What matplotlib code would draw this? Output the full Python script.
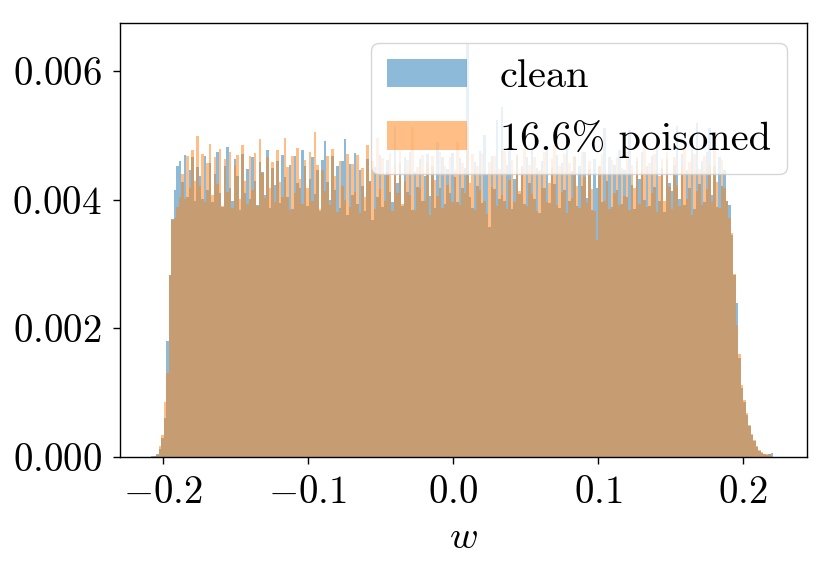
"""Weight histogram: clean vs poisoned"""

import matplotlib
matplotlib.use("Agg")
import matplotlib.pyplot as plt
from matplotlib.ticker import MultipleLocator, FuncFormatter
import numpy as np

plt.rcParams["font.family"] = ["serif"]
plt.rcParams["font.serif"] = ["cmr10", "DejaVu Serif"]
plt.rcParams["mathtext.fontset"] = "cm"
plt.rcParams["axes.unicode_minus"] = False

# bin range shared by both histograms
BIN_LO = -0.208
BIN_HI = 0.2226

# bar heights (fraction of weights per bin), in units of 1e-5
clean_heights = [
    1, 2, 4, 12, 30, 60, 180, 283, 370,
    416, 452, 461, 428, 470, 405, 447, 466, 398, 451,
    437, 402, 469, 415, 458, 396, 441, 475, 410, 389,
    452, 482, 419, 398, 463, 437, 384, 472, 411, 448,
    401, 466, 430, 392, 459, 444, 407, 478, 388, 450,
    423, 461, 395, 470, 436, 404, 455, 386, 468, 427,
    418, 478, 452, 391, 433, 467, 409, 446, 383, 462,
    492, 428, 400, 469, 415, 452, 387, 461, 495, 377,
    456, 408, 473, 393, 447, 421, 382, 464, 430, 369,
    451, 404, 470, 389, 438, 462, 413, 396, 514, 427,
    458, 391, 466, 412, 475, 385, 443, 420, 463, 399,
    437, 471, 406, 452, 388, 490, 419, 466, 394, 448,
    410, 473, 435, 397, 465, 418, 450, 643, 405, 388,
    459, 422, 476, 395, 501, 441, 358, 468, 417, 525,
    402, 545, 398, 455, 480, 386, 432, 469, 409, 452,
    393, 466, 427, 481, 402, 449, 380, 461, 418, 477,
    395, 451, 424, 470, 387, 458, 415, 483, 399, 445,
    466, 390, 453, 421, 474, 403, 448, 384, 463, 419,
    452, 397, 512, 430, 467, 389, 455, 416, 478, 394,
    446, 405, 509, 423, 386, 461, 432, 475, 400, 452,
    391, 468, 420, 484, 398, 450, 381, 463, 427, 414,
    455, 515, 401, 471, 392, 446, 418, 479, 386, 520,
    425, 460, 397, 474, 512, 408, 452, 389, 467, 421,
    447, 398, 392,
    345, 283, 240, 154, 107, 85, 65, 48, 35, 25, 16, 10, 7, 5, 3, 4, 7, 0,
]

poisoned_heights = [
    0, 1, 3, 17, 34, 85, 130, 283, 369,
    372, 389, 405, 441, 402, 468, 419, 477, 430, 500,
    421, 472, 396, 458, 487, 407, 466, 425, 479, 391,
    463, 412, 474, 388, 455, 470, 401, 486, 429, 394,
    468, 415, 473, 390, 495, 442, 403, 466, 418, 459,
    397, 478, 428, 405, 497, 451, 384, 469, 410, 481,
    432, 393, 462, 418, 474, 399, 506, 455, 386, 447,
    414, 468, 392, 479, 437, 381, 460, 421, 400, 472,
    389, 456, 413, 470, 380, 449, 404, 486, 428, 461,
    386, 496, 417, 465, 398, 443, 473, 382, 455, 411,
    476, 393, 430, 462, 408, 514, 385, 451, 419, 470,
    399, 457, 376, 468, 431, 406, 475, 388, 452, 423,
    466, 396, 447, 490, 392, 458, 410, 514, 427, 471,
    384, 452, 415, 473, 399, 378, 459, 420, 468, 391,
    448, 407, 476, 386, 431, 462, 397, 471, 414, 440,
    479, 390, 455, 409, 467, 383, 446, 418, 474, 396,
    427, 465, 486, 392, 453, 412, 472, 380, 458, 403,
    469, 421, 388, 474, 435, 395, 460, 417, 383, 338,
    452, 471, 399, 438, 386, 462, 411, 466, 392, 449,
    406, 475, 384, 455, 418, 467, 393, 446, 480, 389,
    458, 410, 472, 381, 437, 464, 398, 475, 420, 386,
    466, 423, 391, 452, 480, 402, 459, 377, 471, 414,
    448, 392, 469, 417, 455, 396, 478, 428, 387, 462,
    419, 398, 372,
    348, 285, 205, 160, 112, 88, 68, 50, 36, 26, 17, 11, 8, 5, 4, 4, 0, 0,
]

labels = ["clean", "16.6% poisoned"]

edges = np.linspace(BIN_LO, BIN_HI, len(clean_heights) + 1)
centers = 0.5 * (edges[:-1] + edges[1:])

fig = plt.figure(figsize=(8.3, 5.73), dpi=100)
ax = fig.add_axes([0.1446, 0.2024, 0.8277, 0.7575])

for h, lab in zip([clean_heights, poisoned_heights], labels):
    ax.hist(centers, bins=edges, weights=np.array(h) * 1e-5, alpha=0.5, label=lab)

ax.xaxis.set_major_locator(MultipleLocator(0.1))
ax.yaxis.set_major_locator(MultipleLocator(0.002))
ax.xaxis.set_major_formatter(FuncFormatter(lambda v, p: r"$%.1f$" % (0.0 if abs(v) < 1e-9 else v)))
ax.yaxis.set_major_formatter(FuncFormatter(lambda v, p: r"$%.3f$" % v))
ax.tick_params(labelsize=28, length=5, width=1.0, pad=8)
for s in ax.spines.values():
    s.set_linewidth(1.0)

ax.set_xlabel(r"$w$", fontsize=28, labelpad=7)
ax.legend(loc="upper right", fontsize=29, labelspacing=0.6)

fig.savefig("out.png", dpi=100)
